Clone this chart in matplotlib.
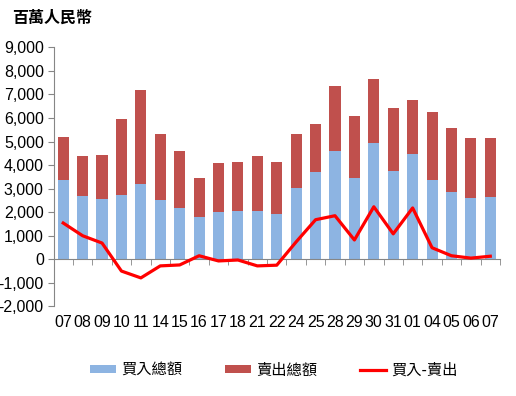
import numpy as np
import matplotlib.pyplot as plt
from matplotlib.ticker import FuncFormatter, MultipleLocator, FixedLocator

plt.rcParams['font.family'] = ['Liberation Sans', 'Noto Sans CJK TC', 'DejaVu Sans']

# 日期標籤
days = ['07', '08', '09', '10', '11', '14', '15', '16', '17', '18', '21', '22',
        '24', '25', '28', '29', '30', '31', '01', '04', '05', '06', '07']
# 買入總額 (百萬人民幣)
buy = np.array([3370, 2690, 2560, 2730, 3200, 2520, 2180, 1800, 2010, 2050, 2050, 1940,
                3030, 3710, 4600, 3450, 4940, 3750, 4470, 3370, 2860, 2600, 2640])
# 買入+賣出 (柱頂)
total = np.array([5200, 4380, 4430, 5960, 7190, 5320, 4600, 3450, 4090, 4130, 4380, 4130,
                  5320, 5740, 7350, 6080, 7650, 6420, 6760, 6250, 5570, 5150, 5150])
sell = total - buy
net = buy - sell

BLUE = '#8DB4E2'
RED = '#C0504D'
GREY = '#868686'

fig = plt.figure(figsize=(5.16, 3.96), dpi=100)
ax = fig.add_axes([53.5 / 516, 1 - 306.4 / 396, 446.5 / 516, (306.4 - 47.3) / 396])

x = np.arange(len(days))
b1 = ax.bar(x, buy, width=0.57, color=BLUE, label='買入總額', zorder=2)
b2 = ax.bar(x, sell, width=0.57, bottom=buy, color=RED, label='賣出總額', zorder=2)
l1, = ax.plot(x, net, color='#FF0000', lw=2.3, label='買入-賣出', zorder=3)

ax.set_xlim(-0.5, len(days) - 0.5)
ax.set_ylim(-2000, 9000)
ax.yaxis.set_major_locator(MultipleLocator(1000))
ax.yaxis.set_major_formatter(FuncFormatter(lambda v, p: f'{v:,.0f}'))

for s in ['top', 'right']:
    ax.spines[s].set_visible(False)
ax.spines['left'].set_color(GREY)
ax.spines['bottom'].set_color(GREY)
ax.spines['bottom'].set_position(('data', 0))

ax.set_xticks(x)
ax.set_xticklabels(days)
ax.xaxis.set_minor_locator(FixedLocator(np.arange(-0.5, len(days), 1.0)))
ax.tick_params(axis='x', which='major', length=0, pad=40, labelsize=11.5)
ax.tick_params(axis='x', which='minor', length=4, color=GREY, direction='out')
ax.tick_params(axis='y', length=4, color=GREY, labelsize=11.5, pad=3)

fig.text(12 / 516, 1 - 18 / 396, '百萬人民幣', fontsize=11.5, fontweight='bold',
         family=['Noto Sans CJK TC'], va='center', ha='left')

ax.legend(handles=[b1, b2, l1], loc='center', bbox_to_anchor=(274 / 516, 1 - 370 / 396),
          bbox_transform=fig.transFigure, ncol=3, frameon=False,
          prop={'family': 'Noto Sans CJK TC', 'size': 11},
          handlelength=1.7, handleheight=0.5, columnspacing=2.8, handletextpad=0.35)

fig.savefig('out.png', dpi=100)
